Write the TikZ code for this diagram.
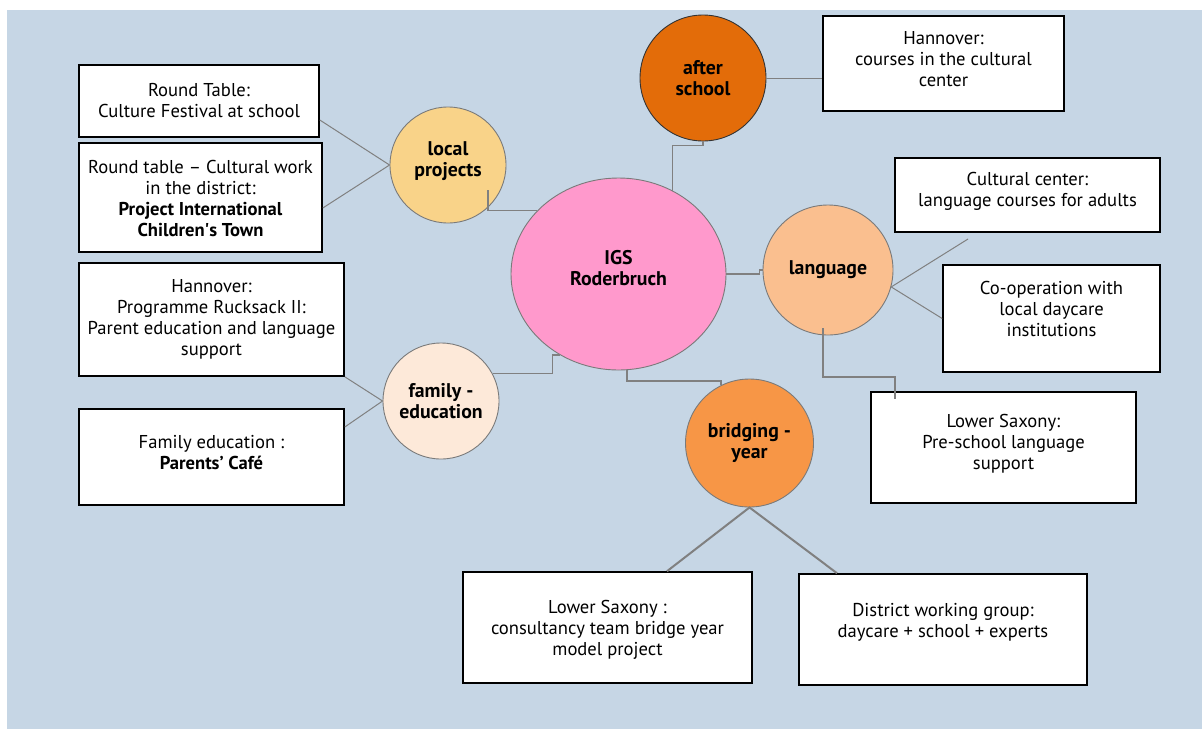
\documentclass[tikz,border=0pt]{standalone}
\usepackage{fontspec}
\setmainfont{PT Sans}
\usetikzlibrary{shapes.geometric,calc}
\definecolor{bgc}{HTML}{C6D6E5}
\definecolor{igsc}{HTML}{FF99CC}
\definecolor{localc}{HTML}{F9D389}
\definecolor{afterc}{HTML}{E36C09}
\definecolor{langc}{HTML}{FABF8F}
\definecolor{bridgec}{HTML}{F79646}
\definecolor{famc}{HTML}{FDE9D9}
\definecolor{linkc}{HTML}{808080}
\definecolor{rimc}{HTML}{7A7A7A}
\begin{document}
\begin{tikzpicture}[x=1pt,y=-1pt,
  box/.style={draw=black, line width=1.6pt, fill=white, inner sep=0pt},
  btext/.style={align=center, font=\fontsize{18.6}{21}\selectfont, inner sep=0pt},
  hub/.style={circle, draw=rimc, line width=0.9pt, align=center, inner sep=0pt,
              font=\bfseries\fontsize{19.8}{21}\selectfont},
  link/.style={draw=linkc, line width=1pt},
  heavylink/.style={draw=linkc, line width=2pt}]
\useasboundingbox (0,0) rectangle (1202,729);
\fill[bgc] (7,10) rectangle (1202,729);

% boxes
\node[box, minimum width=240pt, minimum height=72pt] (rt1) at (199,101) {};
\node[btext] at (rt1.center) {Round Table:\\Culture Festival at school};
\node[box, minimum width=243pt, minimum height=109pt] (rt2) at (200.5,197.5) {};
\node[btext] at ([yshift=-1.5pt]rt2.center) {Round table – Cultural work\\in the district:\\\textbf{Project International}\\\textbf{Children\textquotesingle s Town}};
\node[box, minimum width=265pt, minimum height=113pt] (ruck) at (211.5,319.5) {};
\node[btext] at (ruck.center) {Hannover:\\Programme Rucksack II:\\Parent education and language\\support};
\node[box, minimum width=265pt, minimum height=96pt] (cafe) at (211.5,457) {};
\node[btext] at ([yshift=4pt]cafe.center) {Family education :\\\textbf{Parents’ Café}};
\node[box, minimum width=241pt, minimum height=95pt] (hann) at (943.5,63.5) {};
\node[btext] at ([yshift=4.5pt]hann.center) {Hannover:\\courses in the cultural\\center};
\node[box, minimum width=265pt, minimum height=74pt] (cc) at (1027.5,195) {};
\node[btext] at ([yshift=4pt]cc.center) {Cultural center:\\language courses for adults};
\node[box, minimum width=217pt, minimum height=107pt] (coop) at (1051.5,318.5) {};
\node[btext] at ([yshift=10pt]coop.center) {Co-operation with\\local daycare\\institutions};
\node[box, minimum width=265pt, minimum height=111pt] (lsr) at (1003.5,447.5) {};
\node[btext] at ([yshift=3.5pt]lsr.center) {Lower Saxony:\\Pre-school language\\support};
\node[box, minimum width=289pt, minimum height=111pt] (lsb) at (607.5,627.5) {};
\node[btext] at ([yshift=-2.5pt]lsb.center) {Lower Saxony :\\consultancy team bridge year\\model project};
\node[box, minimum width=288pt, minimum height=111pt] (dist) at (943,629.5) {};
\node[btext] at ([yshift=7.5pt]dist.center) {District working group:\\daycare + school + experts};

% hubs
\node[hub, fill=igsc, ellipse, minimum width=215pt, minimum height=192pt] (igs) at (618.5,274) {};
\node[hub, draw=none, fill=none] at ([yshift=5.5pt]igs.center) {IGS\\Roderbruch};
\node[hub, fill=localc, minimum size=116pt] (local) at (448,165) {};
\node[hub, draw=none, fill=none] at ([yshift=3.5pt]local.center) {local\\projects};
\node[hub, fill=afterc, draw=black!80, minimum size=126pt] (after) at (703,78) {after\\school};
\node[hub, fill=langc, minimum size=130pt] (lang) at (828,270) {language};
\node[hub, fill=bridgec, minimum size=128pt] (bridge) at (749.5,443) {bridging -\\year};
\node[hub, fill=famc, minimum size=116pt] (fam) at (441,401) {family -\\education};

% connectors
\draw[link] ([yshift=-19pt]rt1.east) -- (local.west);
\draw[link] ([yshift=-10.5pt]rt2.east) -- (local.west);
\draw[link, line width=1.3pt] ([xshift=40pt,yshift=-25pt]local.center) |- (igs.142.6);
\draw[link] (after.east) -- (after.east -| hann.west);
\draw[link, line width=1.2pt] (after.south) -- ++(0,4) -| (igs.57.3);
\draw[link, line width=1.2pt] (igs.east) -- ++(33,0) |- (lang.west);
\coordinate (ccend) at (968,239);
\draw[link] (ccend) -- (lang.-15) -- (coop.west);
\draw[heavylink] ([xshift=-5pt,yshift=-58pt]lang.center) -- ++(0,49) -| ([xshift=25pt,yshift=-8pt]lsr.north west);
\draw[heavylink] (igs.-85) -- ++(0,11) -| (bridge.116);
\draw[heavylink] ([xshift=59.5pt]lsb.north) -- (bridge.south) -- ([xshift=-106pt]dist.north);
\draw[link, line width=1.5pt] (igs.-126) -- ++(-7,0) |- (fam.28);
\draw[link] (ruck.south east) -- (fam.west) -- ([yshift=30pt]cafe.east);
\end{tikzpicture}
\end{document}
